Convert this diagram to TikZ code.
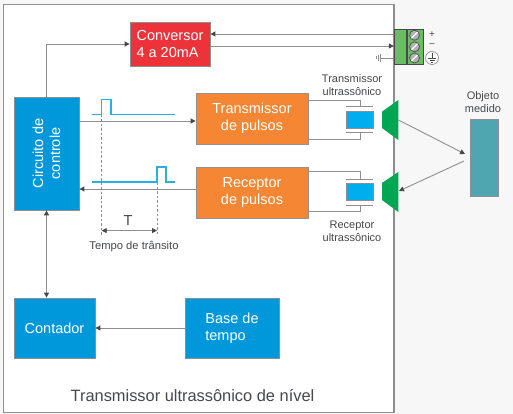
\documentclass[tikz,border=0pt]{standalone}
\usepackage{fontspec}
\setmainfont{Liberation Sans}
\usepackage{xcolor}
\usetikzlibrary{
  arrows.meta,
  calc,
  positioning
}
\definecolor{blockblue}{RGB}{0,152,218}
\definecolor{pulseorange}{RGB}{245,134,52}
\definecolor{convred}{RGB}{238,50,58}
\definecolor{hornblue}{RGB}{0,174,239}
\definecolor{horngreen}{RGB}{0,166,81}
\definecolor{termgreen}{RGB}{107,189,99}
\definecolor{objteal}{RGB}{80,166,176}
\definecolor{pulsecyan}{RGB}{40,175,230}
\definecolor{inkgray}{RGB}{70,72,75}
\definecolor{wiregray}{RGB}{140,142,145}
\definecolor{papergray}{RGB}{247,247,247}
\tikzset{
  x=1pt,y=-1pt,
  block/.style={draw=wiregray,line width=0.8pt,rectangle,inner sep=0pt,align=left,
    text=white,font=\fontsize{14.5}{16.5}\selectfont},
  ctrlblock/.style={block,fill=blockblue},
  pulseblock/.style={block,fill=pulseorange,align=center,draw=inkgray!60},
  lab/.style={font=\fontsize{11}{13}\selectfont,align=center,text=inkgray,inner sep=0pt},
  oneway/.style={-{Triangle[length=5pt,width=5pt,color=inkgray]},line width=0.9pt,draw=wiregray},
  bothway/.style={{Triangle[length=5pt,width=5pt,color=inkgray]}-{Triangle[length=5pt,width=5pt,color=inkgray]},line width=0.9pt,draw=wiregray},
  wire/.style={line width=0.9pt,draw=wiregray},
  pulse/.style={line width=1.2pt,draw=pulsecyan},
  guide/.style={line width=0.7pt,dash pattern=on 2.5pt off 2pt,draw=wiregray},
  plate/.style={line width=1pt,draw=wiregray},
  crystal/.style={draw=wiregray,line width=0.6pt,fill=hornblue,inner sep=0pt,minimum width=27.5pt,minimum height=17pt},
  screw/.style={circle,draw=inkgray,line width=0.7pt,fill=gray!60,inner sep=0pt,minimum size=10pt,path picture={
    \draw[white,line width=1.2pt] (path picture bounding box.south west)--(path picture bounding box.north east);}}
}
\begin{document}
\begin{tikzpicture}
  \useasboundingbox (0,0) rectangle (513,414);
  \fill[papergray] (0,0) rectangle (513,414);
  \draw[wiregray,line width=1.2pt,fill=white] (3.5,4.5) rectangle (394,412.5);

  % blocks
  \node[block,fill=convred,minimum width=80pt,minimum height=44pt] (conv) at (170,44) {Conversor\\4 a 20mA};
  \node[ctrlblock,minimum width=65pt,minimum height=113pt,align=center] (ctrl) at (46.5,153.5) {};
  \node[rotate=90,align=center,text=white,inner sep=0pt,font=\fontsize{14.5}{17}\selectfont] (ctrltxt) at (46.5,153.5) {Circuito de\\controle};
  \node[pulseblock,minimum width=112pt,minimum height=51pt] (tx) at (252,118.5) {Transmissor\\de pulsos};
  \node[pulseblock,minimum width=112pt,minimum height=51pt] (rx) at (252,192.5) {Receptor\\de pulsos};
  \node[ctrlblock,minimum width=81pt,minimum height=60pt] (cnt) at (54.5,328) {Contador};
  \node[ctrlblock,minimum width=94pt,minimum height=60pt] (base) at (232,328) {Base de\\tempo};
  \node[lab,font=\fontsize{16.4}{19}\selectfont] (title) at (192.5,396) {Transmissor ultrassônico de nível};

  % terminal block
  \node[draw=inkgray,line width=0.8pt,fill=termgreen,inner sep=0pt,minimum width=12.5pt,minimum height=35.5pt] (termA) at (400.5,46.8) {};
  \node[draw=inkgray,line width=0.8pt,fill=termgreen,inner sep=0pt,minimum width=16pt,minimum height=35.5pt,right=0pt of termA] (termB) {};
  \node[screw] (s1) at (414.5,35.2) {};
  \node[screw] (s2) at (414.5,46.8) {};
  \node[screw] (s3) at (414.5,58) {};
  \node[lab,font=\fontsize{10}{10}\selectfont] (plus) at (432,35) {+};
  \node[lab,font=\fontsize{10}{10}\selectfont] (minus) at (432,46) {−};
  \node[circle,draw=wiregray,line width=0.7pt,fill=white,inner sep=0pt,minimum size=13pt] (earth) at (432,58) {};
  \draw[inkgray,line width=0.6pt] (432,53.5)--(432,58) (428,58)--(436,58) (429.5,60)--(434.5,60) (431,62)--(433,62);
  \coordinate (gnd) at (381,58);
  \draw[wire] (termA.west |- gnd)--(gnd) (380.5,54)--(380.5,62);
  \draw[wire] (378.5,55)--(378.5,61) (376.5,56.5)--(376.5,59.5);

  % connectors
  \coordinate (convin) at (conv.east |- 0,34);
  \coordinate (convout) at (conv.east |- 0,46);
  \coordinate (txin) at (tx.west |- 0,121);
  \coordinate (rxout) at (rx.west |- 0,189);
  \draw[oneway] (ctrl.north) |- (conv.west);
  \draw[oneway] (termA.west |- convin)--(convin);
  \draw[oneway] (convout)--(termA.west |- convout);
  \draw[oneway] (ctrl.east |- txin)--(txin);
  \draw[oneway] (rxout)--(ctrl.east |- rxout);
  \draw[bothway] (ctrl.south)--(ctrl.south |- cnt.north);
  \draw[oneway] (base.west)--(cnt.east);

  % pulses
  \coordinate (ta) at (101.7,230.6);
  \coordinate (tb) at (157,230.6);
  \draw[guide] (101.7,115)--(101.7,236);
  \draw[guide] (157,182)--(157,236);
  \draw[pulse] (92,114.5)--(101.6,114.5)--(101.6,99.3)--(111,99.3)--(111,114.5)--(175,114.5);
  \draw[pulse] (92,182)--(157,182)--(157,167)--(166,167)--(166,182)--(175,182);
  \draw[bothway] (ta)--(tb);
  \node[lab,font=\fontsize{14.5}{16}\selectfont] (tlab) at (128,221) {T};
  \node[lab,font=\fontsize{11.2}{13}\selectfont] (tlong) at (134,247) {Tempo de trânsito};

  % transducers
  \node[crystal] (xt) at (360,119.5) {};
  \node[crystal] (xr) at (360,191.7) {};
  \draw[wire] (tx.east |- 0,100)--(360,100)--(360,106.5);
  \draw[wire] (tx.east |- 0,139.5)--(360,139.5)--(360,132.7);
  \draw[wire] (rx.east |- 0,171.7)--(360,171.7)--(360,179);
  \draw[wire] (rx.east |- 0,211)--(360,211)--(360,205);
  \draw[plate] (346,106.5)--(373,106.5) (346,132.7)--(373,132.7);
  \draw[plate] (346,179)--(373,179) (346,205)--(373,205);
  \fill[horngreen] (398.3,100)--(382,111.7)--(382,128)--(398.3,140)--cycle;
  \fill[horngreen] (398.3,172)--(382,183)--(382,200)--(398.3,212)--cycle;
  \node[lab] (txlab) at (352,85.5) {Transmissor\\ultrassônico};
  \node[lab] (rxlab) at (352,231.5) {Receptor\\ultrassônico};

  % object
  \node[draw=wiregray,line width=0.8pt,fill=objteal,inner sep=0pt,minimum width=28pt,minimum height=77pt] (obj) at (484.5,157.5) {};
  \node[lab] (objlab) at (483,102.5) {Objeto\\medido};
  \coordinate (ha) at (398.5,120);
  \coordinate (hb) at (465,154);
  \coordinate (hc) at (464,161);
  \coordinate (hd) at (399,191);
  \draw[oneway] (ha)--(hb);
  \draw[oneway] (hc)--(hd);
\end{tikzpicture}
\end{document}
